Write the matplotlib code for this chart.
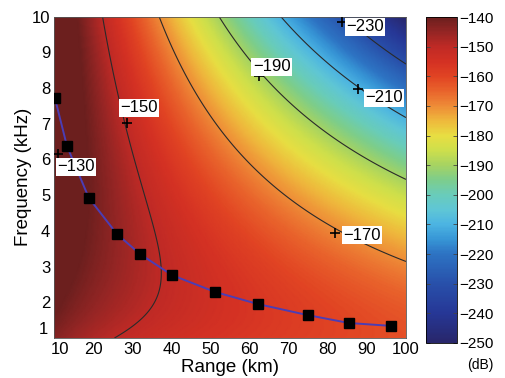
import numpy as np
import matplotlib
matplotlib.use("Agg")
import matplotlib.pyplot as plt
from matplotlib.colors import LinearSegmentedColormap
from matplotlib.transforms import ScaledTranslation

plt.rcParams['font.family'] = ['Liberation Sans', 'DejaVu Sans']

# ---------------- data ----------------
# model parameters of the 1/(A*N) field (dB)
spreading_k = 1.5          # spreading factor
absorption_coef = 0.041    # dB/km at 1 kHz
absorption_exp = 1.45      # frequency exponent of absorption
level_offset_db = -127.9   # overall level
noise_slope_db = 14.25     # frequency gain per decade (noise decrease)
noise_curv_db = 9.64       # curvature of the noise term

range_min_km, range_max_km = 10, 100
freq_min_khz, freq_max_khz = 1, 10

# optimum frequency points (black squares)
opt_range_km = [10.1, 13.2, 18.8, 26.0, 31.9, 40.1, 51.1, 62.1, 74.9, 85.4, 96.1]
opt_freq_khz = [7.72, 6.37, 4.92, 3.91, 3.35, 2.76, 2.29, 1.95, 1.64, 1.42, 1.34]

# contour levels and their labels
contour_levels = [-230, -210, -190, -170, -150, -130]
label_levels = [-130, -150, -170, -190, -210, -230]
label_mark_r = [10.9, 28.6, 81.8, 62.4, 87.7, 83.6]
label_mark_f = [6.15, 7.02, 3.94, 8.33, 7.97, 9.85]
label_text_r = [15.5, 31.6, 88.7, 65.6, 94.3, 89.5]
label_text_f = [5.79, 7.44, 3.88, 8.59, 7.72, 9.71]

xticks = list(range(10, 101, 10))
yticks = list(range(1, 11))
cbar_ticks = list(range(-140, -251, -10))

# colour map anchors (value dB, colour)
cmap_values = [-250, -240, -230, -220, -215, -210, -205, -200, -195, -190,
               -185, -180, -175, -170, -165, -160, -155, -150, -145, -140]
cmap_colors = ['#28266a', '#263796', '#2850aa', '#2d73c3', '#3796d6', '#4cb4e2',
               '#5fc6d6', '#69ccba', '#7dcd8c', '#a6d362', '#cddf4c', '#e8de42',
               '#eeb93c', '#ee8c37', '#e9642c', '#e14423', '#d43123', '#c02a25',
               '#952524', '#6c1f1e']

r = np.linspace(range_min_km, range_max_km, 300)
f = np.linspace(freq_min_khz, freq_max_khz, 300)
R, F = np.meshgrid(r, f)
X = np.log10(F)
absorption = absorption_coef * F ** absorption_exp
V = (level_offset_db - 10 * spreading_k * np.log10(R) - R * absorption
     + noise_slope_db * X + noise_curv_db * X ** 2)

pos = [(v - cmap_values[0]) / (cmap_values[-1] - cmap_values[0]) for v in cmap_values]
cmap = LinearSegmentedColormap.from_list('tl', list(zip(pos, cmap_colors)))

# ---------------- figure ----------------
fig = plt.figure(figsize=(5.06, 3.78), dpi=100)
ax = fig.add_axes([0.1077, 0.1058, 0.6946, 0.8505])
cax = fig.add_axes([0.842, 0.0926, 0.061, 0.8624])

mesh = ax.pcolormesh(R, F, V, cmap=cmap, vmin=-250, vmax=-140, shading='gouraud',
                     rasterized=True)
ax.contour(R, F, V, levels=contour_levels, colors='#2a2a2a', linewidths=0.8,
           linestyles='solid')

ax.plot(opt_range_km, opt_freq_khz, color='#4b3db5', lw=1.4, zorder=4)
ax.plot(opt_range_km, opt_freq_khz, 's', color='black', ms=7, zorder=5)

for lev, mr, mf, tr, tf in zip(label_levels, label_mark_r, label_mark_f,
                               label_text_r, label_text_f):
    ax.plot(mr, mf, '+', color='black', ms=7, mew=1.2, zorder=6)
    ax.text(tr, tf, '\u2212%d' % abs(lev), fontsize=12, ha='center', va='center',
            zorder=7, bbox=dict(boxstyle='square,pad=0.08', fc='white', ec='none'))

ax.set_xlim(range_min_km, range_max_km)
ax.set_ylim(freq_min_khz, freq_max_khz)
ax.set_xticks(xticks)
ax.set_yticks(yticks)
ax.tick_params(length=0, labelsize=12, pad=3)
ax.set_xlabel('Range (km)', fontsize=13.5, labelpad=1)
ax.set_ylabel('Frequency (kHz)', fontsize=13.5, labelpad=0)
for s in ax.spines.values():
    s.set_linewidth(0.6)
    s.set_color('#555555')

# nudge the corner labels apart, as in the reference
fig.canvas.draw()
yl0 = ax.get_yticklabels()[0]
yl0.set_transform(yl0.get_transform() + ScaledTranslation(-2 / 72, 7 / 72, fig.dpi_scale_trans))
xl0 = ax.get_xticklabels()[0]
xl0.set_transform(xl0.get_transform() + ScaledTranslation(4 / 72, 0, fig.dpi_scale_trans))

cb = fig.colorbar(mesh, cax=cax, ticks=cbar_ticks)
cb.outline.set_linewidth(0.6)
cax.yaxis.set_ticks_position('both')
cax.yaxis.set_label_position('right')
cax.tick_params(direction='in', length=3, width=0.6, color='#444444',
                labelsize=11, labelright=True, labelleft=False, pad=2)
fig.text(0.949, 0.035, '(dB)', fontsize=10, ha='center', va='center')

fig.savefig('out.png', dpi=100)
